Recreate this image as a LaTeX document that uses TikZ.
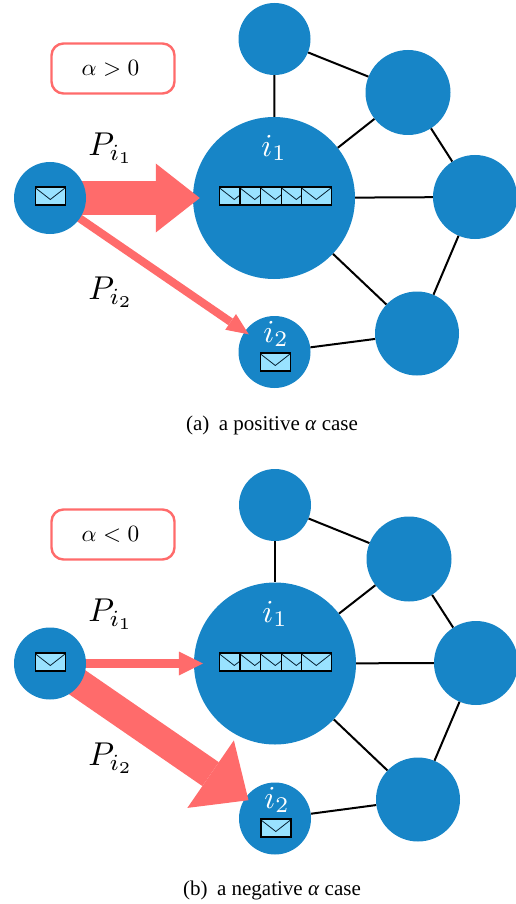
\documentclass[tikz,border=0pt]{standalone}
\usepackage{fontspec}
\setmainfont{Liberation Serif}
\usetikzlibrary{arrows.meta}
\definecolor{netblue}{HTML}{1785C7}
\definecolor{coral}{HTML}{FF6B6B}
\definecolor{mailfill}{HTML}{99E2FF}
\pgfdeclarelayer{under}
\pgfdeclarelayer{over}
\pgfsetlayers{under,main,over}
\newcommand{\mathlabel}[2]{\scalebox{#1}{$#2$}}
\tikzset{
  x=1pt,y=-1pt,
  hub/.style={circle,fill=netblue,inner sep=0pt,minimum size=#1},
  link/.style={draw=black,line width=2pt},
  mail/.style={rectangle,draw=black,line width=1.6pt,fill=mailfill,inner sep=0pt,
    minimum width=#1,minimum height=18pt,anchor=west,
    path picture={\draw[line width=.8pt,draw=black!75!netblue]
      ([shift={(-1pt,0pt)}]path picture bounding box.north west) --
      ([yshift=-3.5pt]path picture bounding box.center) --
      ([shift={(1pt,0pt)}]path picture bounding box.north east);}},
  flow/.style n args={3}{draw=coral,line width=#1,
    -{Triangle[length=#2,width=#3,line width=0pt,fill=coral]}},
  casebox/.style={rectangle,rounded corners=12pt,draw=coral,line width=2.4pt,fill=white,
    minimum width=123pt,minimum height=50pt},
  nodetext/.style={text=white,inner sep=0pt},
  plabel/.style={inner sep=0pt},
  caption/.style={inner sep=0pt,font=\fontsize{21}{25}\selectfont}
}
\begin{document}
\begin{tikzpicture}
\useasboundingbox (0,0) rectangle (516,904);
\begin{pgfonlayer}{under}
  % panel (a)
  \node[hub=72pt] (at) at (274.5,39) {};
  \node[hub=85pt] (ar) at (408,92.5) {};
  \node[hub=84pt] (ae) at (475,197) {};
  \node[hub=162pt] (ai) at (274,198) {};
  \node[hub=84pt] (al) at (417,333.5) {};
  \node[hub=72pt] (aj) at (274.5,352) {};
  \draw[link] (at) -- (ai);
  \draw[link] (at) -- (ar);
  \draw[link] (ar) -- (ai);
  \draw[link] (ar) -- (ae);
  \draw[link] (ai) -- (ae);
  \draw[link] (ae) -- (al);
  \draw[link] (al) -- (ai);
  \draw[link] (al) -- (aj);
  % panel (b)
  \node[hub=72pt] (bt) at (275,505) {};
  \node[hub=85pt] (br) at (409,559) {};
  \node[hub=84pt] (be) at (476,663) {};
  \node[hub=162pt] (bi) at (275,663.5) {};
  \node[hub=84pt] (bl) at (418,799.5) {};
  \node[hub=72pt] (bj) at (275,818.5) {};
  \draw[link] (bt) -- (bi);
  \draw[link] (bt) -- (br);
  \draw[link] (br) -- (bi);
  \draw[link] (br) -- (be);
  \draw[link] (bi) -- (be);
  \draw[link] (be) -- (bl);
  \draw[link] (bl) -- (bi);
  \draw[link] (bl) -- (bj);
\end{pgfonlayer}
\begin{pgfonlayer}{over}
  \node[hub=72pt] (as) at (50,198) {};
  \node[hub=72pt] (bs) at (50,663.5) {};
  \node[mail=30pt] (asm) at (34.5,196) {};
  \node[mail=30pt] (bsm) at (34.5,662) {};
\end{pgfonlayer}
% arrows
\draw[flow={34pt}{44pt}{69pt},shorten >=-7pt] (as.center) -- (ai);
\draw[flow={8pt}{22pt}{19pt},shorten >=-5pt] (as.center) -- (aj);
\draw[flow={9pt}{24pt}{24pt},shorten >=-9pt] (bs.center) -- (bi);
\draw[flow={29pt}{46pt}{82pt},shorten >=-4pt] (bs.center) -- (bj);
% queues and messages
\foreach \n/\xx in {1/218.5,2/239,3/259.5,4/280.5,5/300.5}{
  \node[mail=30pt] (aq\n) at (\xx,196) {};
  \node[mail=30pt] (bq\n) at (\xx,662) {};
}
\node[mail=30pt] (ajm) at (259.5,362) {};
\node[mail=30pt] (bjm) at (260,828) {};
% texts
\node[casebox] (abox) at (113,68.5) {\mathlabel{2.33}{\alpha>0}\kern5pt};
\node[casebox] (bbox) at (113,534.5) {\mathlabel{2.33}{\alpha<0}\kern5pt};
\node[plabel] (ap1) at (111,148) {\mathlabel{3.3}{P_{i_1}}};
\node[plabel] (ap2) at (111,292) {\mathlabel{3.3}{P_{i_2}}};
\node[plabel] (bp1) at (111,614) {\mathlabel{3.3}{P_{i_1}}};
\node[plabel] (bp2) at (111,758) {\mathlabel{3.3}{P_{i_2}}};
\node[nodetext] (ail) at (274,148) {\mathlabel{3.2}{i_1}};
\node[nodetext] (ajl) at (276,334) {\mathlabel{3.2}{i_2}};
\node[nodetext] (bil) at (275,614) {\mathlabel{3.2}{i_1}};
\node[nodetext] (bjl) at (277,800) {\mathlabel{3.2}{i_2}};
\node[caption] (acap) at (272,425.5) {(a)\hspace{.45em}a positive \textit{α} case};
\node[caption] (bcap) at (272,890.5) {(b)\hspace{.45em}a negative \textit{α} case};
\end{tikzpicture}
\end{document}
